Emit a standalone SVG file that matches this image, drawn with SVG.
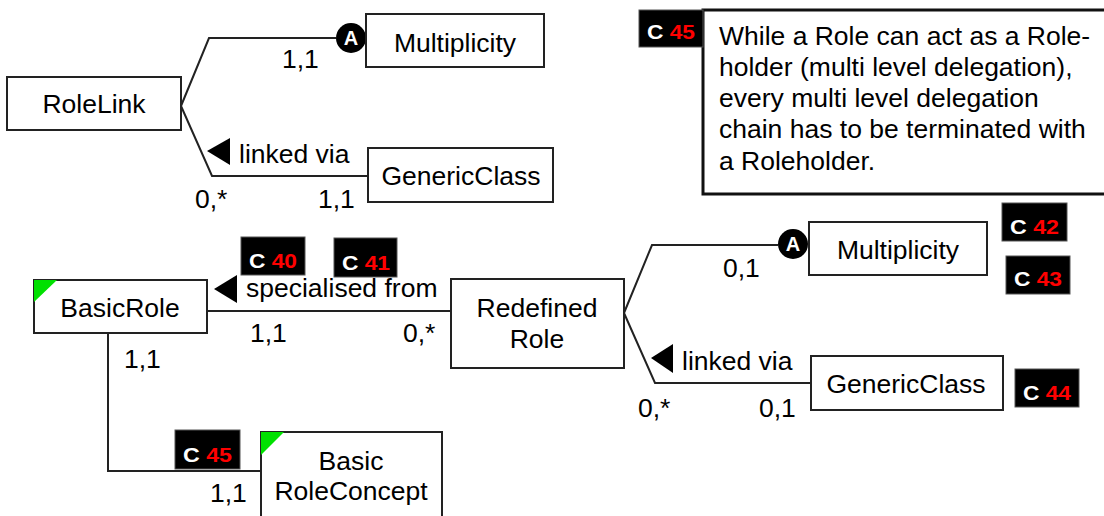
<svg xmlns="http://www.w3.org/2000/svg" width="1104" height="516" viewBox="0 0 1104 516">
  <style>
    .box { fill: #fff; stroke: #222; stroke-width: 2; }
    .note { fill: #fff; stroke: #111; stroke-width: 3; }
    .lbl { font-family: "Liberation Sans", Arial, sans-serif; font-size: 26.5px; fill: #000; }
    .mid { text-anchor: middle; }
    .tag { fill: #000; stroke: #555; stroke-width: 1; }
    .tagtext { font-family: "Liberation Sans", Arial, sans-serif; font-size: 21px; font-weight: bold; fill: #fff; }
    .num { fill: #f00; }
    .line { fill: none; stroke: #222; stroke-width: 2; }
    .tri { fill: #000; }
    .mark { fill: #00e000; }
    .agg { fill: #000; }
    .aggtext { font-family: "Liberation Sans", Arial, sans-serif; font-size: 20px; font-weight: bold; fill: #fff; text-anchor: middle; }
  </style>

  <!-- connectors -->
  <g id="connectors">
    <polyline class="line" points="181,106 209,38 336,38"/>
    <polyline class="line" points="181,106 212,176 368,176"/>
    <line class="line" x1="207" y1="311" x2="451" y2="311"/>
    <polyline class="line" points="108,333 108,471 264,471"/>
    <polyline class="line" points="624,313 652,245 778,245"/>
    <polyline class="line" points="624,313 655,383 811,383"/>

    <!-- association markers -->
    <circle class="agg" cx="351" cy="38" r="15"/>
    <text class="aggtext" x="351" y="45">A</text>
    <circle class="agg" cx="793" cy="244" r="15"/>
    <text class="aggtext" x="793" y="251">A</text>

    <!-- reading-direction triangles and role names -->
    <polygon class="tri" points="207,151 230,138 230,165"/>
    <text class="lbl" x="239" y="163">linked via</text>
    <polygon class="tri" points="214,289 237,275 237,303"/>
    <text class="lbl" x="246" y="297">specialised from</text>
    <polygon class="tri" points="651,358 673,344 673,373"/>
    <text class="lbl" x="682" y="370">linked via</text>

    <!-- cardinalities -->
    <text class="lbl" x="282" y="68">1,1</text>
    <text class="lbl" x="195" y="208">0,*</text>
    <text class="lbl" x="318" y="208">1,1</text>
    <text class="lbl" x="250" y="342">1,1</text>
    <text class="lbl" x="403" y="342">0,*</text>
    <text class="lbl" x="124" y="368">1,1</text>
    <text class="lbl" x="210" y="502">1,1</text>
    <text class="lbl" x="723" y="277">0,1</text>
    <text class="lbl" x="638" y="417">0,*</text>
    <text class="lbl" x="759" y="417">0,1</text>
  </g>

  <g id="rolelink">
    <rect class="box" x="7" y="77" width="174" height="53"/>
    <text class="lbl mid" x="94" y="113">RoleLink</text>
  </g>

  <g id="multiplicity-1">
    <rect class="box" x="366" y="14" width="178" height="53"/>
    <text class="lbl mid" x="455" y="52">Multiplicity</text>
  </g>

  <g id="genericclass-1">
    <rect class="box" x="368" y="148" width="185" height="54"/>
    <text class="lbl mid" x="461" y="185">GenericClass</text>
  </g>

  <g id="note-c45">
    <rect class="note" x="703" y="10" width="420" height="184"/>
    <text class="lbl" x="719" y="45">While a Role can act as a Role-</text>
    <text class="lbl" x="719" y="76">holder (multi level delegation),</text>
    <text class="lbl" x="719" y="107">every multi level delegation</text>
    <text class="lbl" x="719" y="138">chain has to be terminated with</text>
    <text class="lbl" x="719" y="170">a Roleholder.</text>
    <rect class="tag" x="639" y="10" width="64" height="37"/>
    <text class="tagtext" x="647" y="39" textLength="48" lengthAdjust="spacingAndGlyphs">C <tspan class="num">45</tspan></text>
  </g>

  <g id="basicrole">
    <rect class="box" x="34" y="280" width="173" height="53"/>
    <polygon class="mark" points="34,280 57,280 34,302"/>
    <text class="lbl mid" x="120" y="317">BasicRole</text>
  </g>

  <g id="redefinedrole">
    <rect class="box" x="451" y="279" width="173" height="89"/>
    <text class="lbl mid" x="537" y="317">Redefined</text>
    <text class="lbl mid" x="537" y="348">Role</text>
  </g>

  <g id="basicroleconcept">
    <rect class="box" x="261" y="432" width="181" height="100"/>
    <polygon class="mark" points="261,432 284,432 261,455"/>
    <text class="lbl mid" x="351" y="470">Basic</text>
    <text class="lbl mid" x="351" y="500">RoleConcept</text>
  </g>

  <g id="multiplicity-2">
    <rect class="box" x="809" y="222" width="178" height="53"/>
    <text class="lbl mid" x="898" y="259">Multiplicity</text>
  </g>

  <g id="genericclass-2">
    <rect class="box" x="811" y="356" width="192" height="54"/>
    <text class="lbl mid" x="906" y="393">GenericClass</text>
  </g>

  <g id="constraint-tags">
    <rect class="tag" x="241" y="237" width="64" height="38"/>
    <text class="tagtext" x="249" y="268" textLength="48" lengthAdjust="spacingAndGlyphs">C <tspan class="num">40</tspan></text>
    <rect class="tag" x="334" y="238" width="63" height="39"/>
    <text class="tagtext" x="342" y="270" textLength="48" lengthAdjust="spacingAndGlyphs">C <tspan class="num">41</tspan></text>
    <rect class="tag" x="1002" y="203" width="65" height="38"/>
    <text class="tagtext" x="1010" y="234" textLength="49" lengthAdjust="spacingAndGlyphs">C <tspan class="num">42</tspan></text>
    <rect class="tag" x="1006" y="256" width="64" height="38"/>
    <text class="tagtext" x="1014" y="286" textLength="48" lengthAdjust="spacingAndGlyphs">C <tspan class="num">43</tspan></text>
    <rect class="tag" x="1015" y="369" width="64" height="38"/>
    <text class="tagtext" x="1023" y="400" textLength="48" lengthAdjust="spacingAndGlyphs">C <tspan class="num">44</tspan></text>
    <rect class="tag" x="175" y="430" width="65" height="39"/>
    <text class="tagtext" x="183" y="462" textLength="49" lengthAdjust="spacingAndGlyphs">C <tspan class="num">45</tspan></text>
  </g>
</svg>
